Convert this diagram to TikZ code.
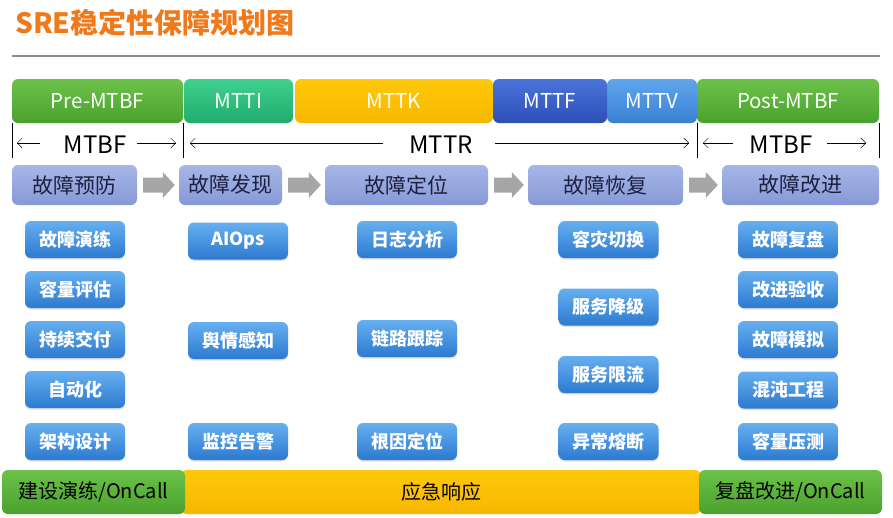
\documentclass[tikz,border=0pt]{standalone}
\usepackage{fontspec}
\setmainfont{Noto Sans CJK SC}
\usetikzlibrary{arrows.meta,calc,shadows}
\definecolor{titleor}{HTML}{F07A1A}
\definecolor{rulegray}{HTML}{8C8C8C}
\definecolor{gtop}{HTML}{6CC249}
\definecolor{gbot}{HTML}{4AA12D}
\definecolor{ttop}{HTML}{3FD08F}
\definecolor{tbot}{HTML}{20AC6C}
\definecolor{ytop}{HTML}{FFC80A}
\definecolor{ybot}{HTML}{F7B800}
\definecolor{dbtop}{HTML}{4A74DA}
\definecolor{dbbot}{HTML}{2D4FB6}
\definecolor{lbtop}{HTML}{5FA6EE}
\definecolor{lbbot}{HTML}{3A80D2}
\definecolor{ptop}{HTML}{A6B6E8}
\definecolor{pbot}{HTML}{8799D6}
\definecolor{ptext}{HTML}{1E2040}
\definecolor{itop}{HTML}{66AFF0}
\definecolor{ibot}{HTML}{2C7AD0}
\definecolor{barrow}{HTML}{A6A6A6}
\tikzset{
  topbar/.style={rounded corners=6pt, minimum height=44pt, inner sep=0pt, text=white, font=\fontsize{20.5}{20.5}\selectfont},
  phasebox/.style={rounded corners=6pt, minimum height=40pt, inner sep=0pt, top color=ptop, bottom color=pbot, text=ptext, font=\fontsize{21}{21}\selectfont},
  itembox/.style={rounded corners=6pt, minimum width=100pt, minimum height=37pt, inner sep=0pt, top color=itop, bottom color=ibot, text=white, font=\bfseries\fontsize{18}{18}\selectfont, drop shadow={shadow xshift=0pt, shadow yshift=-1.5pt, opacity=0.25}},
  bottombar/.style={rounded corners=6pt, minimum height=44pt, inner sep=0pt, text=black, font=\fontsize{20}{20}\selectfont},
  spanlabel/.style={inner sep=0pt, font=\fontsize{24}{24}\selectfont},
  spanarrow/.style={thin, -{Straight Barb[length=5pt,width=10pt]}},
  tick/.style={thin},
}
\newcommand{\blockarr}[2]{%
  \fill[barrow] let \p1=(#1.east), \p2=(#2.west) in
    (\x1+6pt,\y1+7.5pt) -- (\x2-16pt,\y1+7.5pt) -- (\x2-16pt,\y1+13pt) -- (\x2-4pt,\y1) --
    (\x2-16pt,\y1-13pt) -- (\x2-16pt,\y1-7.5pt) -- (\x1+6pt,\y1-7.5pt) -- cycle;}
\begin{document}
\begin{tikzpicture}[x=1pt,y=-1pt]
\useasboundingbox (0,0) rectangle (893,517);
% title
\node[anchor=west, inner sep=0pt, text=titleor, font=\bfseries\fontsize{28}{28}\selectfont] (title) at (15,23) {SRE稳定性保障规划图};
\coordinate (r1) at (12,56); \coordinate (r2) at (880,56);
\draw[rulegray, line width=2.5pt] (r1) -- (r2);
% top bars
\node[topbar, top color=ytop, bottom color=ybot, minimum width=198pt] (mttk) at (394,101) {MTTK};
\node[topbar, top color=gtop, bottom color=gbot, minimum width=171pt] (premtbf) at (97.5,101) {Pre-MTBF};
\node[topbar, top color=ttop, bottom color=tbot, minimum width=109pt] (mtti) at (238.5,101) {MTTI};
\node[topbar, top color=lbtop, bottom color=lbbot, minimum width=90pt] (mttv) at (652,101) {MTTV};
\node[topbar, top color=dbtop, bottom color=dbbot, minimum width=114pt] (mttf) at (550,101) {MTTF};
\node[topbar, top color=gtop, bottom color=gbot, minimum width=182pt] (postmtbf) at (788,101) {Post-MTBF};
% span row
\foreach \n/\x in {t1/12, t2/183, t3/697, t4/879}{
  \coordinate (\n a) at (\x,123); \coordinate (\n b) at (\x,158);
  \draw[tick] (\n a) -- (\n b);}
\node[spanlabel] (mtbfl) at (95,145) {MTBF};
\node[spanlabel] (mttr) at (441,145) {MTTR};
\node[spanlabel] (mtbfr) at (781,145) {MTBF};
\coordinate (a1s) at (40,143); \coordinate (a1e) at (17,143);
\coordinate (a2s) at (137,143); \coordinate (a2e) at (176,143);
\coordinate (a3s) at (383,143); \coordinate (a3e) at (190,143);
\coordinate (a4s) at (495,143); \coordinate (a4e) at (689,143);
\coordinate (a5s) at (733,143); \coordinate (a5e) at (703,143);
\coordinate (a6s) at (827,143); \coordinate (a6e) at (866,143);
\foreach \i in {1,...,6}{\draw[spanarrow] (a\i s) -- (a\i e);}
% phases
\node[phasebox, minimum width=125pt] (p1) at (74.5,185) {故障预防};
\node[phasebox, minimum width=103pt] (p2) at (230.5,185) {故障发现};
\node[phasebox, minimum width=163pt] (p3) at (406.5,185) {故障定位};
\node[phasebox, minimum width=155pt] (p4) at (605.5,185) {故障恢复};
\node[phasebox, minimum width=157pt] (p5) at (800.5,185) {故障改进};
\blockarr{p1}{p2}
\blockarr{p2}{p3}
\blockarr{p3}{p4}
\blockarr{p4}{p5}
% items col 1
\node[itembox] (c1a) at (75,239.5) {故障演练};
\node[itembox] (c1b) at (75,289.5) {容量评估};
\node[itembox] (c1c) at (75,339.5) {持续交付};
\node[itembox] (c1d) at (75,389.5) {自动化};
\node[itembox] (c1e) at (75,441.5) {架构设计};
% col 2
\node[itembox] (c2a) at (238,241) {AIOps};
\node[itembox] (c2b) at (238,340.5) {舆情感知};
\node[itembox] (c2c) at (238,441.5) {监控告警};
% col 3
\node[itembox] (c3a) at (407,239.5) {日志分析};
\node[itembox] (c3b) at (407,338.5) {链路跟踪};
\node[itembox] (c3c) at (407,441.5) {根因定位};
% col 4
\node[itembox] (c4a) at (608.5,239.5) {容灾切换};
\node[itembox] (c4b) at (608.5,307) {服务降级};
\node[itembox] (c4c) at (608.5,374.5) {服务限流};
\node[itembox] (c4d) at (608.5,441.5) {异常熔断};
% col 5
\node[itembox] (c5a) at (788,239.5) {故障复盘};
\node[itembox] (c5b) at (788,289.5) {改进验收};
\node[itembox] (c5c) at (788,339.5) {故障模拟};
\node[itembox] (c5d) at (788,390) {混沌工程};
\node[itembox] (c5e) at (788,441.5) {容量压测};
% bottom
\node[bottombar, top color=ytop, bottom color=ybot, minimum width=520pt] (resp) at (441,492) {应急响应};
\node[bottombar, top color=gtop, bottom color=gbot, minimum width=183pt] (b1) at (93.5,492) {建设演练/OnCall};
\node[bottombar, top color=gtop, bottom color=gbot, minimum width=183pt] (b3) at (790.5,492) {复盘改进/OnCall};
\end{tikzpicture}
\end{document}
